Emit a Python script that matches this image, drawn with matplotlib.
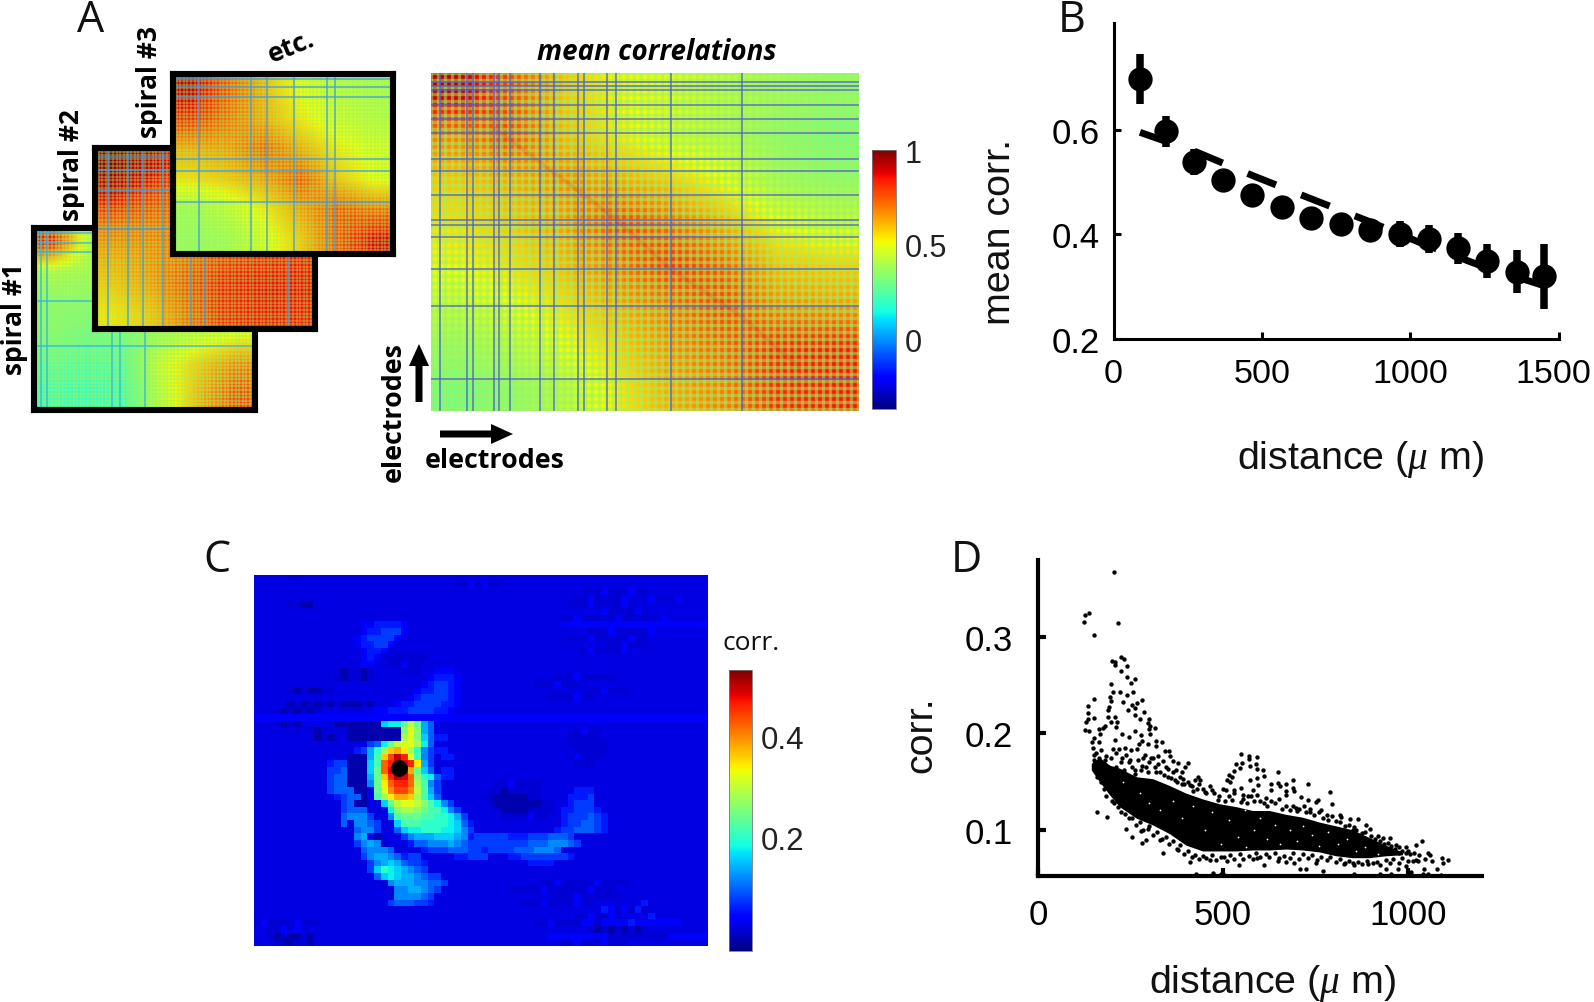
import numpy as np
import matplotlib
matplotlib.use("Agg")
import matplotlib.pyplot as plt
from matplotlib.patches import FancyArrow
from matplotlib.transforms import ScaledTranslation

W, H = 1594, 1003
plt.rcParams['mathtext.fontset'] = 'custom'
plt.rcParams['mathtext.rm'] = 'Liberation Sans'
plt.rcParams['mathtext.it'] = 'Liberation Serif:italic'
ARIAL = 'Liberation Sans'
CAL = 'Open Sans'

# ---------- Panel A: correlation matrices (coarse values) ----------
spiral1_grid = [[.85, .42, .35, .30, .30, .30],
                [.40, .38, .36, .34, .32, .32],
                [.33, .33, .33, .35, .35, .38],
                [.32, .28, .30, .38, .45, .50],
                [.25, .22, .25, .48, .60, .70],
                [.20, .18, .22, .45, .64, .78]]
spiral2_grid = [[.98, .92, .82, .74, .70, .65],
                [.90, .82, .74, .70, .65, .65],
                [.74, .72, .72, .74, .75, .75],
                [.65, .68, .72, .78, .82, .84],
                [.60, .66, .76, .84, .86, .86],
                [.55, .60, .72, .82, .85, .85]]
spiral3_grid = [[.92, .76, .62, .50, .42, .40],
                [.82, .72, .64, .54, .46, .42],
                [.64, .66, .74, .64, .54, .48],
                [.56, .60, .66, .76, .60, .50],
                [.38, .44, .54, .66, .76, .72],
                [.36, .38, .48, .60, .76, .88]]
mean_grid = [[.92, .78, .60, .52, .48, .42, .38, .35],
             [.70, .78, .62, .54, .46, .42, .34, .30],
             [.60, .64, .68, .64, .58, .50, .38, .34],
             [.56, .60, .66, .78, .72, .62, .50, .44],
             [.52, .56, .62, .72, .80, .74, .60, .58],
             [.44, .50, .56, .64, .72, .78, .68, .66],
             [.36, .42, .50, .58, .68, .74, .82, .84],
             [.30, .34, .42, .54, .64, .70, .82, .84]]
spiral1_v = [.03, .06, .355, .39, .50]
spiral1_h = [.03, .08, .13, .40, .65]
spiral2_v = [.06, .15, .22, .31, .435, .50, .875]
spiral2_h = [.05, .12, .23, .45]
spiral3_v = [.12, .355, .425, .55, .70, .735]
spiral3_h = [.03, .07, .125, .47, .54, .71]
mean_v = [.022, .084, .098, .147, .160, .184, .255, .287, .344, .358, .412, .432, .561, .726]
mean_h = [.027, .039, .051, .096, .135, .177, .254, .291, .360, .436, .451, .486, .580, .688, .905]
mean_diag = [[.15, .165], [.43, .43], [.56, .58], [.725, .72], [.86, .87]]
mean_ticks = [1, 0.5, 0]
mean_range = [-0.366, 1.0]

# ---------- Panel B ----------
b_dist = [88, 175, 271, 369, 467, 567, 665, 765, 864, 964, 1063, 1162, 1260, 1358, 1450]
b_corr = [.697, .597, .538, .503, .475, .452, .432, .420, .409, .401, .391, .373, .349, .329, .320]
b_err = [.047, .030, .025, .012, .010, .010, .010, .010, .013, .025, .026, .030, .033, .042, .062]
b_fit_x = [89, 281, 470, 661, 855, 1047, 1238, 1450]
b_fit_y = [.595, .557, .512, .469, .426, .381, .340, .302]

# ---------- Panel C: correlation map, levels in steps of 0.02 ----------
C_LEVELS = "0123456789abcdefghijklmnopq"
C_background = 0.026
C_shape = (56, 68)
# (first row, last row, first column, levels)
C_patches = [
    (0, 0, 5, "11"), (1, 1, 30, "1121211"), (4, 4, 5, "1100"), (3, 3, 48, "11211112"),
    (2, 2, 50, "112111211"), (3, 3, 58, "121112"), (4, 4, 47, "1112111121"), (5, 5, 52, "2111121"),
    (6, 6, 46, "1121111121111112"), (7, 7, 46, "2" * 22),
    (8, 8, 50, "1112111112"), (9, 9, 47, "111211111211"), (10, 10, 53, "112111"), (11, 11, 49, "1211112"),
    (7, 7, 16, "2233332"), (8, 8, 16, "2334442"), (9, 9, 15, "2344442"), (10, 10, 15, "233442"),
    (11, 11, 16, "2332"), (12, 12, 16, "232"), (13, 13, 16, "22"),
    (12, 12, 19, "1111111"), (13, 13, 20, "11211"), (14, 14, 22, "111"),
    (14, 14, 27, "222"), (15, 15, 26, "23332"), (16, 16, 25, "234432"),
    (17, 17, 24, "2334432"), (18, 18, 23, "23444432"), (19, 19, 21, "2334444332"),
    (20, 20, 18, "223334444332"), (21, 21, 0, "2" * 68),
    (15, 15, 45, "111211111"), (16, 16, 42, "1112111"), (17, 17, 50, "112111"), (18, 18, 44, "1111211"),
    (14, 15, 12, "101101"), (17, 17, 5, "1010011"), (19, 19, 5, "0101010100010"),
    (20, 20, 3, "1010101"), (22, 22, 3, "1010"), (22, 22, 12, "0000000"),
    (23, 24, 14, "0000000"), (23, 23, 8, "101"), (24, 24, 9, "0101"),
    (22, 22, 19, "899cfc75"), (23, 23, 21, "0dgd75"), (24, 24, 21, "0egd85"),
    (25, 25, 17, "459cfgge95"), (26, 26, 15, "347aeijhea64"),
    (27, 27, 16, "47bimpngb64"), (28, 28, 17, "8blnponh74"), (29, 29, 17, "8cloqpjc85"),
    (30, 30, 17, "7cinpolda95"), (31, 31, 17, "6chlnnleb64"), (32, 32, 18, "cgkmmkfb74"),
    (33, 33, 18, "behjjieb85"), (34, 34, 19, "8cfggfdb964"), (35, 35, 20, "9deedcbb964"),
    (36, 36, 20, "6bcccbbaa974"), (37, 37, 21, "8bbbaaaa9853"),
    (38, 38, 21, "5899aaa99864"), (39, 39, 22, "46777888763"), (40, 40, 23, "3556667654"),
    (41, 41, 25, "3444555443"), (42, 42, 30, "33444"),
    (27, 34, 14, "000"), (28, 28, 11, "344"), (29, 29, 11, "445"), (30, 30, 11, "455"),
    (31, 31, 11, "455"), (32, 32, 11, "4555"), (33, 33, 12, "3455"), (34, 34, 13, "45"),
    (35, 35, 13, "4555"), (36, 36, 13, "56664"), (37, 37, 13, "5"), (37, 37, 15, "6654"),
    (38, 38, 15, "5664"), (39, 39, 15, "6720"), (40, 40, 15, "46761"), (41, 41, 16, "56665"),
    (42, 42, 16, "467765344"), (43, 43, 17, "467875443"), (44, 44, 17, "48a987654"),
    (45, 45, 18, "5898776544"), (46, 46, 20, "677766554"), (47, 47, 21, "6677654"),
    (48, 48, 21, "666654"), (49, 49, 20, "4555443"),
    (31, 31, 36, "1121111"), (32, 32, 35, "11011111"), (33, 33, 34, "110000011"), (34, 34, 35, "1000000011"),
    (35, 35, 36, "100001111"), (36, 36, 37, "1111211"), (23, 23, 48, "1211"), (24, 24, 47, "11111"),
    (25, 25, 47, "111111"), (26, 26, 48, "11111"), (27, 27, 47, "12111"), (28, 28, 48, "111"),
    (26, 26, 27, "33"), (27, 27, 28, "33"), (24, 24, 27, "33"), (29, 30, 28, "33"),
    (39, 39, 33, "444443334445554"), (40, 40, 32, "44444444455566654"),
    (41, 41, 35, "44445556665"), (42, 42, 38, "3344444443"), (43, 43, 41, "3333"),
    (32, 32, 48, "333"), (33, 33, 47, "3334"), (34, 34, 47, "3444"), (35, 35, 46, "334443"),
    (36, 36, 46, "3444543"), (37, 37, 46, "3445543"), (38, 38, 45, "34455543"),
    (46, 46, 43, "1121111121111"), (47, 47, 38, "1111121111112111"), (48, 48, 45, "1112111111"),
    (49, 49, 40, "11121111211"), (50, 50, 52, "3212131"), (51, 51, 48, "1121121"),
    (52, 52, 42, "1121111221222232222222"), (53, 53, 50, "101010101"),
    (54, 54, 44, "222222222111111111222222"), (55, 55, 46, "1121112111"),
    (54, 54, 2, "1010010"), (55, 55, 3, "100110"), (52, 52, 0, "1211112111"), (53, 53, 2, "112121"),
    (49, 49, 58, "3"), (51, 51, 59, "3"),
]
C_dot = [21.15, 28.65]
C_range = [-0.023, 0.53]
C_ticks = [0.2, 0.4]

# ---------- Panel D ----------
d_arc = [(206, .368), (137, .3245), (128, .3225), (125, .316), (216, .315), (152, .302),
 (225, .279), (232, .277), (200, .275), (207, .274), (208, .271), (241, .270), (223, .265), (241, .259),
 (261, .257), (250, .252), (197, .251), (203, .243), (221, .243), (258, .243), (240, .240), (194, .238),
 (198, .234), (151, .236), (229, .233), (280, .235), (267, .232), (255, .230), (134, .228), (191, .227),
 (189, .224), (244, .224), (263, .226), (135, .221), (286, .222), (263, .219), (150, .216), (135, .215),
 (207, .217), (189, .217), (276, .215), (198, .212), (213, .212), (131, .212), (300, .215), (297, .211),
 (303, .208), (182, .208), (211, .207), (315, .206), (128, .204), (138, .203), (301, .205), (261, .203),
 (166, .205), (175, .206), (304, .199), (279, .198), (227, .199), (247, .196), (209, .193), (168, .199),
 (150, .195), (318, .192), (334, .191), (282, .192), (147, .191), (166, .191), (297, .189), (274, .189),
 (318, .187), (252, .183), (220, .184), (234, .185), (202, .184), (344, .182), (353, .182), (288, .178),
 (267, .184), (324, .177), (357, .177), (306, .175), (366, .171), (339, .171), (378, .169), (405, .169),
 (396, .165), (373, .162), (389, .160), (425, .152), (432, .155), (439, .152), (391, .153), (360, .154)]
d_bump = [(549, .179), (569, .177), (591, .176), (569, .173), (552, .169), (590, .168), (534, .168), (572, .166),
 (545, .164), (591, .163), (531, .161), (515, .157), (608, .162), (648, .160), (525, .155), (591, .154),
 (573, .152), (610, .156), (510, .152), (518, .150), (689, .152), (648, .149), (630, .147), (671, .148),
 (729, .148), (595, .146), (653, .145), (509, .141), (531, .141), (549, .143), (581, .141), (630, .141),
 (689, .143), (693, .140), (671, .140), (790, .139), (554, .136), (567, .135), (671, .136), (591, .136),
 (711, .134), (756, .131), (729, .131), (617, .133), (752, .129), (795, .127), (765, .120), (734, .122),
 (698, .123), (815, .115), (819, .113), (842, .111), (864, .111), (853, .103), (887, .105), (896, .101),
 (918, .094), (932, .091), (950, .091), (968, .084), (995, .082), (1022, .084), (1038, .088), (1053, .076),
 (1092, .071), (1107, .069), (1065, .068), (1094, .066), (1078, .059), (1044, .059), (1026, .068), (1022, .069),
 (1013, .068), (995, .076), (977, .076)]
d_low = [(159, .118), (186, .113), (239, .101), (254, .093), (279, .099), (297, .101), (293, .089), (282, .086),
 (329, .089), (339, .076), (428, .054), (473, .055), (495, .054), (501, .054), (543, .063), (612, .063),
 (648, .068), (671, .067), (693, .065), (708, .059), (725, .059), (770, .057), (855, .054), (924, .054),
 (941, .059), (954, .054), (972, .059), (995, .062), (999, .055), (1008, .056), (1040, .054), (1053, .054),
 (1089, .053), (378, .079), (410, .067), (464, .069), (504, .072), (591, .071), (752, .066), (891, .064),
 (855, .063), (828, .064)]
d_edge_up = [(150, .172), (158, .180), (170, .183), (183, .177), (196, .174), (210, .180), (228, .174), (245, .170),
 (262, .162), (280, .166), (296, .160), (320, .160), (340, .157), (352, .163), (370, .152), (390, .148),
 (412, .146), (430, .142), (452, .139), (470, .141), (486, .131), (505, .130), (525, .131), (548, .129),
 (565, .128), (600, .130), (620, .125), (640, .128), (660, .122), (682, .120), (700, .119), (725, .118),
 (745, .115), (770, .112), (785, .110), (805, .109), (830, .104), (850, .100), (875, .097), (900, .094),
 (925, .088), (945, .086), (965, .080), (985, .078), (1005, .075)]
d_edge_lo = [(160, .155), (178, .142), (200, .130), (215, .124), (235, .116), (255, .112), (275, .108), (300, .104),
 (322, .098), (345, .092), (365, .088), (385, .084), (405, .078), (425, .074), (445, .073), (470, .074),
 (495, .072), (520, .074), (545, .075), (570, .073), (590, .076), (615, .075), (640, .076), (665, .073),
 (690, .076), (715, .075), (740, .074), (765, .072), (790, .072), (815, .070), (840, .068), (865, .067),
 (890, .068), (915, .067), (940, .069), (960, .070), (985, .071)]
d_mid_up = [(148, .185), (152, .178), (155, .170), (160, .165), (165, .175), (172, .168), (178, .160), (185, .155),
 (190, .165), (182, .172), (195, .160), (205, .155), (200, .148), (210, .165), (218, .160), (225, .170),
 (232, .162), (240, .155), (238, .178), (248, .172), (255, .165), (262, .158), (270, .172), (278, .162),
 (285, .175), (292, .165), (300, .170), (310, .175), (315, .165), (325, .168), (330, .160), (345, .165),
 (350, .155), (365, .160), (375, .150), (385, .155), (395, .148), (405, .150), (415, .145), (420, .140),
 (435, .148), (445, .142), (455, .138), (465, .145), (475, .138), (490, .135), (500, .142), (515, .135),
 (530, .138), (555, .132), (575, .135), (585, .130), (610, .128), (630, .130), (650, .132), (670, .125),
 (690, .125), (705, .122), (720, .125), (735, .118), (760, .118), (780, .115), (795, .114), (815, .108),
 (840, .105), (860, .100), (885, .098), (910, .090), (935, .085), (955, .083), (975, .082), (1000, .078),
 (1015, .076), (1030, .074), (1045, .070), (1060, .074)]
d_mid_lo = [(170, .150), (185, .135), (205, .128), (225, .118), (245, .112), (265, .105), (285, .100), (310, .095),
 (335, .090), (355, .085), (375, .080), (395, .075), (415, .072), (435, .070), (455, .071), (480, .069),
 (510, .068), (530, .070), (555, .070), (580, .070), (600, .072), (625, .072), (650, .071), (680, .071),
 (705, .070), (730, .071), (755, .069), (780, .069), (805, .067), (830, .066), (850, .066), (875, .064),
 (905, .065), (925, .063), (950, .066), (975, .066), (1000, .068)]
# small white gaps visible inside the cloud
d_gaps = [(230, .150), (275, .138), (300, .128), (330, .120), (365, .130), (390, .112), (420, .125), (450, .100),
 (470, .118), (495, .085), (515, .110), (540, .092), (560, .120), (562, .082), (585, .100), (600, .112),
 (620, .090), (640, .105), (655, .085), (680, .100), (700, .088), (715, .104), (740, .095), (760, .083),
 (785, .098), (810, .085), (835, .090), (860, .078), (885, .082), (920, .075)]
# the solid dark core of the cloud
d_core_x = [144, 166, 194, 220, 266, 310, 355, 400, 445, 490, 535, 580, 625, 670, 715, 760, 805, 850, 895, 940, 985]
d_core_up = [.169, .175, .167, .164, .155, .153, .146, .138, .132, .127, .124, .120, .120, .116, .113, .108, .104, .100, .092, .084, .077]
d_core_lo = [.162, .150, .136, .124, .112, .105, .096, .084, .078, .078, .078, .079, .079, .080, .079, .077, .073, .071, .071, .073, .074]

fig = plt.figure(figsize=(W / 100, H / 100), dpi=100, facecolor='white')


def px_axes(x0, y0, x1, y1, **kw):
    return fig.add_axes([x0 / W, 1 - y1 / H, (x1 - x0) / W, (y1 - y0) / H], **kw)


def draw_corr(rect, grid, vs, hs, period, lat_lw, lat_a, stripe, stripe_lw, frame=0.0, z=1):
    ax = px_axes(*rect, zorder=z)
    ax.imshow(grid, cmap='jet', vmin=mean_range[0], vmax=mean_range[1], aspect='auto',
              extent=(0, 1, 1, 0), interpolation='bilinear')
    wpx, hpx = rect[2] - rect[0], rect[3] - rect[1]
    ax.vlines(np.arange(0, 1, period / wpx), 0, 1, color='#a4f060', lw=lat_lw, alpha=lat_a)
    ax.hlines(np.arange(0, 1, period / hpx), 0, 1, color='#a4f060', lw=lat_lw, alpha=lat_a)
    ax.vlines(vs, 0, 1, color=stripe, lw=stripe_lw, alpha=.8)
    ax.hlines(hs, 0, 1, color=stripe, lw=stripe_lw, alpha=.8)
    ax.set_xlim(0, 1)
    ax.set_ylim(1, 0)
    ax.set_xticks([])
    ax.set_yticks([])
    for s in ax.spines.values():
        s.set_linewidth(frame)
        s.set_color('black')
    if frame == 0:
        ax.set_frame_on(False)
    return ax


draw_corr((34, 229, 255, 411), spiral1_grid, spiral1_v, spiral1_h, 3.6, 1.1, .5, '#35b4e0', 1.2, 4.4, 1)
draw_corr((95, 149, 315, 330), spiral2_grid, spiral2_v, spiral2_h, 3.6, 1.1, .4, '#3f9fe0', 1.2, 4.4, 2)
draw_corr((173, 75, 393, 255), spiral3_grid, spiral3_v, spiral3_h, 3.6, 1.1, .4, '#3f9fe0', 1.2, 4.4, 3)
axm = draw_corr((431, 74, 859, 412), mean_grid, mean_v, mean_h, 7.0, 2.4, .5, '#4a62d0', 1.2, 0, 1)
dx, dy = zip(*mean_diag)
axm.plot(dx, dy, color='#d23a2a', lw=3, alpha=.18)

# colour bar of panel A
cax = px_axes(872, 151, 896, 410)
cb = fig.colorbar(plt.cm.ScalarMappable(plt.Normalize(*mean_range), 'jet'), cax=cax)
cb.set_ticks(mean_ticks)
cb.set_ticklabels(['1', '0.5', '0'], fontfamily=ARIAL, fontsize=22, color='#222222')
cax.tick_params(length=0, pad=6)
cb.outline.set_linewidth(.6)
cb.outline.set_edgecolor('#777777')

# ---------- Panel B ----------
axb = px_axes(1113.6, 24, 1558.7, 340)
axb.plot(b_fit_x, b_fit_y, color='black', lw=5, dashes=(4.4, 3.9), dash_capstyle='butt')
axb.errorbar(b_dist, b_corr, yerr=b_err, fmt='o', color='black', ms=17.5, mew=0, elinewidth=5.4)
axb.set_xlim(0, 1500)
axb.set_ylim(.2, .804)
axb.set_xticks([0, 500, 1000, 1500])
axb.set_yticks([.2, .4, .6])
axb.set_yticklabels(['0.2', '0.4', '0.6'])
axb.tick_params(direction='in', length=5, width=2.2, labelsize=25, pad=10, labelfontfamily=ARIAL)
axb.tick_params(axis='x', pad=14, labelsize=24.5)
last = axb.get_xticklabels()[-1]
last.set_transform(last.get_transform() + ScaledTranslation(-5 / 100, 0, fig.dpi_scale_trans))
for s in ('top', 'right'):
    axb.spines[s].set_visible(False)
for s in ('left', 'bottom'):
    axb.spines[s].set_linewidth(2.2)
axb.patch.set_alpha(0)

# ---------- Panel C ----------
C_grid = np.full(C_shape, C_background)
for r0, r1, c0, levels in C_patches:
    vals = [C_LEVELS.index(ch) * 0.02 for ch in levels]
    for r in range(r0, r1 + 1):
        n = min(len(vals), C_shape[1] - c0)
        C_grid[r, c0:c0 + n] = vals[:n]
axc = px_axes(254, 576, 708, 947)
axc.imshow(C_grid, cmap='jet', vmin=C_range[0], vmax=C_range[1], aspect='auto', interpolation='nearest')
axc.plot(*C_dot, 'o', color='black', ms=12, mew=0)
axc.set_xticks([])
axc.set_yticks([])
axc.set_frame_on(False)

cax2 = px_axes(729, 671, 752, 952)
cb2 = fig.colorbar(plt.cm.ScalarMappable(plt.Normalize(*C_range), 'jet'), cax=cax2)
cb2.set_ticks(C_ticks)
cb2.set_ticklabels(['0.2', '0.4'], fontfamily=ARIAL, fontsize=22.5, color='#222222')
cax2.tick_params(length=0, pad=6)
cb2.outline.set_linewidth(.6)
cb2.outline.set_edgecolor('#777777')

# ---------- Panel D ----------
axd = px_axes(1038, 561, 1482, 877)
axd.fill_between(d_core_x, d_core_lo, d_core_up, color='black', lw=0)
for pts in (d_arc, d_bump, d_low, d_edge_up, d_edge_lo, d_mid_up, d_mid_lo):
    xs, ys = zip(*pts)
    axd.scatter(xs, ys, s=10, color='black', linewidths=0, clip_on=False)
xs, ys = zip(*d_gaps)
axd.scatter(xs, ys, s=1.6, color='white', linewidths=0)
axd.set_xlim(0, 1200)
axd.set_ylim(.052, .38)
axd.set_xticks([0, 500, 1000])
axd.set_yticks([.1, .2, .3])
axd.set_yticklabels(['0.1', '0.2', '0.3'])
axd.tick_params(direction='in', length=6, width=3, labelsize=25, pad=18, labelfontfamily=ARIAL)
axd.tick_params(axis='x', pad=16)
for s in ('top', 'right'):
    axd.spines[s].set_visible(False)
for s in ('left', 'bottom'):
    axd.spines[s].set_linewidth(3)
axd.patch.set_alpha(0)

# ---------- Annotation layer ----------
ov = fig.add_axes([0, 0, 1, 1], zorder=20)
ov.set_xlim(0, W)
ov.set_ylim(H, 0)
ov.axis('off')


def label(x, y, s, **kw):
    kw.setdefault('ha', 'center')
    kw.setdefault('va', 'center')
    ov.text(x, y, s, **kw)


for x, y, s in [(91, 21, 'A'), (1072, 21, 'B'), (217, 561, 'C'), (966, 561, 'D')]:
    label(x, y, s, family=CAL, fontsize=31, color='#111111')
bold = dict(family=CAL, fontweight='bold', color='black')
label(15, 319, 'spiral #1', rotation=90, fontsize=19, **bold)
label(72, 165, 'spiral #2', rotation=90, fontsize=19, **bold)
label(150, 82, 'spiral #3', rotation=90, fontsize=19, **bold)
label(291, 47, 'etc.', rotation=22, fontsize=19, **bold)
label(657, 52, 'mean correlations', fontsize=20, style='italic', **bold)
label(495, 461, 'electrodes', fontsize=19.3, **bold)
label(394, 412, 'electrodes', rotation=90, fontsize=19.3, **bold)
ov.add_patch(FancyArrow(440, 435, 73, 0, width=7, head_width=20, head_length=22,
                        length_includes_head=True, color='black', lw=0))
ov.add_patch(FancyArrow(419, 403, 0, -58, width=7, head_width=20, head_length=22,
                        length_includes_head=True, color='black', lw=0))
label(751, 643, 'corr.', family=CAL, fontsize=19, color='#111111')
ar = dict(family=ARIAL, fontsize=28.4, color='#111111')
label(1360, 459, r'distance ($\mathit{\mu}$ m)', **ar)
label(1272, 984, r'distance ($\mathit{\mu}$ m)', **ar)
label(1000, 232, 'mean corr.', rotation=90, **ar)
label(921, 735, 'corr.', rotation=90, **ar)

fig.savefig('out.png', dpi=100)
